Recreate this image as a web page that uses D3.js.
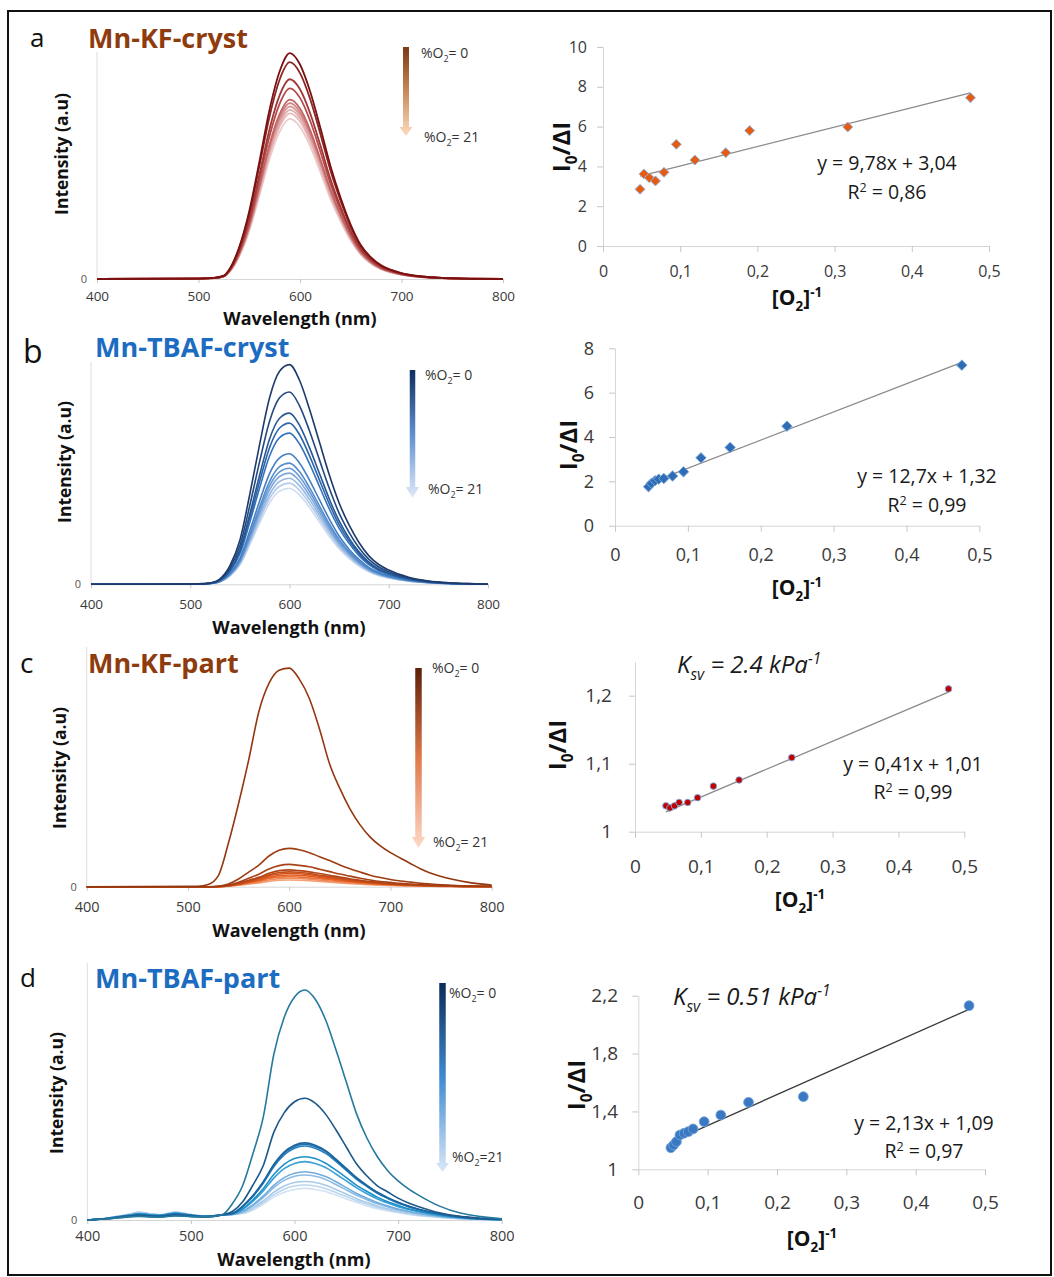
<!DOCTYPE html>
<html>
<head>
<meta charset="utf-8">
<script src="https://cdn.jsdelivr.net/npm/d3@7"></script>
<style>
  body { margin: 0; background: #fff; }
  svg { display: block; font-family: 'Open Sans', 'DejaVu Sans', sans-serif; }
</style>
</head>
<body>
<script>
// ---------- data ----------
const wlTicks = [400, 500, 600, 700, 800];
const invTicks = [0, 0.1, 0.2, 0.3, 0.4, 0.5];

// a : Mn-KF-cryst emission spectra (intensity, axis top = 1)
const wlA = [400, 500, 515, 525, 530, 540, 550, 560, 570, 580, 590, 600, 610, 620, 630, 640, 650, 660, 670, 680, 690, 700, 720, 740, 760, 800];
const specA = [
  [0, 0.002, 0.005, 0.015, 0.04, 0.139, 0.299, 0.517, 0.746, 0.915, 0.995, 0.945, 0.826, 0.667, 0.498, 0.358, 0.239, 0.149, 0.095, 0.06, 0.04, 0.026, 0.011, 0.005, 0.002, 0],
  [0, 0.002, 0.005, 0.014, 0.038, 0.134, 0.287, 0.497, 0.716, 0.879, 0.955, 0.907, 0.793, 0.64, 0.478, 0.344, 0.229, 0.143, 0.091, 0.057, 0.038, 0.025, 0.011, 0.005, 0.002, 0],
  [0, 0.002, 0.004, 0.013, 0.035, 0.123, 0.264, 0.458, 0.66, 0.81, 0.88, 0.836, 0.73, 0.59, 0.44, 0.317, 0.211, 0.132, 0.084, 0.053, 0.035, 0.023, 0.01, 0.004, 0.002, 0],
  [0, 0.002, 0.004, 0.013, 0.034, 0.118, 0.252, 0.437, 0.63, 0.773, 0.84, 0.798, 0.697, 0.563, 0.42, 0.302, 0.202, 0.126, 0.08, 0.05, 0.034, 0.022, 0.009, 0.004, 0.002, 0],
  [0, 0.002, 0.004, 0.012, 0.032, 0.111, 0.237, 0.411, 0.593, 0.727, 0.79, 0.751, 0.656, 0.529, 0.395, 0.284, 0.19, 0.119, 0.075, 0.047, 0.032, 0.021, 0.009, 0.004, 0.002, 0],
  [0, 0.002, 0.004, 0.012, 0.031, 0.109, 0.233, 0.403, 0.581, 0.713, 0.775, 0.736, 0.643, 0.519, 0.388, 0.279, 0.186, 0.116, 0.074, 0.047, 0.031, 0.02, 0.009, 0.004, 0.002, 0],
  [0, 0.002, 0.004, 0.011, 0.03, 0.106, 0.228, 0.395, 0.57, 0.699, 0.76, 0.722, 0.631, 0.509, 0.38, 0.274, 0.182, 0.114, 0.072, 0.046, 0.03, 0.02, 0.008, 0.004, 0.002, 0],
  [0, 0.001, 0.004, 0.011, 0.03, 0.104, 0.224, 0.387, 0.559, 0.685, 0.745, 0.708, 0.618, 0.499, 0.373, 0.268, 0.179, 0.112, 0.071, 0.045, 0.03, 0.019, 0.008, 0.004, 0.001, 0],
  [0, 0.001, 0.004, 0.011, 0.029, 0.102, 0.219, 0.38, 0.548, 0.672, 0.73, 0.694, 0.606, 0.489, 0.365, 0.263, 0.175, 0.11, 0.069, 0.044, 0.029, 0.019, 0.008, 0.004, 0.001, 0],
  [0, 0.001, 0.004, 0.011, 0.028, 0.099, 0.212, 0.367, 0.529, 0.649, 0.705, 0.67, 0.585, 0.472, 0.353, 0.254, 0.169, 0.106, 0.067, 0.042, 0.028, 0.018, 0.008, 0.004, 0.001, 0]
];

// b : Mn-TBAF-cryst
const wlB = [400, 500, 515, 525, 530, 540, 550, 560, 570, 580, 590, 600, 610, 620, 630, 640, 650, 660, 670, 680, 690, 700, 720, 740, 760, 780, 800];
const specB = [
  [0, 0.001, 0.003, 0.012, 0.025, 0.084, 0.198, 0.405, 0.632, 0.84, 0.958, 0.988, 0.919, 0.79, 0.642, 0.494, 0.366, 0.267, 0.188, 0.128, 0.089, 0.064, 0.032, 0.015, 0.007, 0.003, 0],
  [0, 0.001, 0.003, 0.01, 0.022, 0.074, 0.173, 0.355, 0.554, 0.735, 0.839, 0.865, 0.804, 0.692, 0.562, 0.433, 0.32, 0.234, 0.164, 0.112, 0.078, 0.056, 0.028, 0.013, 0.006, 0.003, 0],
  [0, 0.001, 0.002, 0.009, 0.019, 0.065, 0.154, 0.316, 0.493, 0.655, 0.747, 0.77, 0.716, 0.616, 0.501, 0.385, 0.285, 0.208, 0.146, 0.1, 0.069, 0.05, 0.025, 0.012, 0.005, 0.002, 0],
  [0, 0.001, 0.002, 0.009, 0.018, 0.062, 0.145, 0.297, 0.464, 0.616, 0.703, 0.725, 0.674, 0.58, 0.471, 0.363, 0.268, 0.196, 0.138, 0.094, 0.065, 0.047, 0.023, 0.011, 0.005, 0.002, 0],
  [0, 0.001, 0.002, 0.008, 0.017, 0.058, 0.136, 0.279, 0.435, 0.578, 0.66, 0.68, 0.632, 0.544, 0.442, 0.34, 0.252, 0.184, 0.129, 0.088, 0.061, 0.044, 0.022, 0.01, 0.005, 0.002, 0],
  [0, 0.001, 0.002, 0.007, 0.015, 0.05, 0.117, 0.241, 0.376, 0.499, 0.569, 0.587, 0.546, 0.47, 0.382, 0.294, 0.217, 0.158, 0.112, 0.076, 0.053, 0.038, 0.019, 0.009, 0.004, 0.002, 0],
  [0, 0.001, 0.002, 0.007, 0.014, 0.046, 0.109, 0.223, 0.349, 0.463, 0.529, 0.545, 0.507, 0.436, 0.354, 0.273, 0.202, 0.147, 0.104, 0.071, 0.049, 0.035, 0.017, 0.008, 0.004, 0.002, 0],
  [0, 0.001, 0.002, 0.006, 0.012, 0.044, 0.104, 0.214, 0.334, 0.444, 0.506, 0.522, 0.485, 0.418, 0.339, 0.261, 0.193, 0.141, 0.099, 0.068, 0.047, 0.034, 0.017, 0.008, 0.004, 0.002, 0],
  [0, 0.001, 0.002, 0.006, 0.012, 0.043, 0.1, 0.205, 0.32, 0.425, 0.485, 0.5, 0.465, 0.4, 0.325, 0.25, 0.185, 0.135, 0.095, 0.065, 0.045, 0.033, 0.016, 0.008, 0.004, 0.002, 0],
  [0, 0.001, 0.002, 0.006, 0.012, 0.041, 0.095, 0.196, 0.305, 0.405, 0.463, 0.477, 0.444, 0.382, 0.31, 0.239, 0.176, 0.129, 0.091, 0.062, 0.043, 0.031, 0.015, 0.007, 0.003, 0.001, 0],
  [0, 0.001, 0.002, 0.006, 0.012, 0.039, 0.091, 0.187, 0.291, 0.387, 0.441, 0.455, 0.423, 0.364, 0.296, 0.228, 0.168, 0.123, 0.086, 0.059, 0.041, 0.03, 0.015, 0.007, 0.003, 0.001, 0],
  [0, 0.001, 0.002, 0.006, 0.012, 0.037, 0.086, 0.177, 0.276, 0.367, 0.419, 0.432, 0.402, 0.346, 0.281, 0.216, 0.16, 0.117, 0.082, 0.056, 0.039, 0.028, 0.014, 0.006, 0.003, 0.001, 0]
];

// c : Mn-KF-part
const wlC = [400, 510, 520, 530, 540, 550, 560, 570, 580, 590, 600, 610, 620, 630, 640, 650, 660, 670, 680, 690, 700, 710, 720, 730, 740, 760, 780, 800];
const specC = [
  [0, 0.002, 0.009, 0.046, 0.182, 0.347, 0.529, 0.73, 0.848, 0.903, 0.912, 0.866, 0.784, 0.657, 0.511, 0.41, 0.325, 0.258, 0.207, 0.17, 0.142, 0.119, 0.096, 0.074, 0.056, 0.032, 0.016, 0.007],
  [0, 0, 0, 0.002, 0.011, 0.032, 0.061, 0.09, 0.128, 0.152, 0.16, 0.154, 0.142, 0.125, 0.109, 0.091, 0.075, 0.061, 0.048, 0.038, 0.03, 0.024, 0.019, 0.014, 0.011, 0.006, 0.003, 0.002],
  [0, 0, 0, 0.001, 0.007, 0.019, 0.035, 0.052, 0.074, 0.088, 0.093, 0.089, 0.083, 0.073, 0.063, 0.053, 0.044, 0.035, 0.028, 0.022, 0.018, 0.014, 0.011, 0.008, 0.007, 0.004, 0.002, 0.001],
  [0, 0, 0, 0.001, 0.005, 0.014, 0.027, 0.039, 0.056, 0.067, 0.07, 0.067, 0.062, 0.055, 0.048, 0.04, 0.033, 0.027, 0.021, 0.017, 0.013, 0.011, 0.008, 0.006, 0.005, 0.003, 0.001, 0.001],
  [0, 0, 0, 0.001, 0.004, 0.012, 0.024, 0.035, 0.05, 0.059, 0.062, 0.06, 0.055, 0.048, 0.042, 0.035, 0.029, 0.024, 0.019, 0.015, 0.012, 0.009, 0.007, 0.006, 0.004, 0.002, 0.001, 0.001],
  [0, 0, 0, 0.001, 0.004, 0.011, 0.021, 0.031, 0.045, 0.053, 0.056, 0.054, 0.05, 0.044, 0.038, 0.032, 0.026, 0.021, 0.017, 0.013, 0.011, 0.008, 0.007, 0.005, 0.004, 0.002, 0.001, 0.001],
  [0, 0, 0, 0, 0.003, 0.01, 0.019, 0.027, 0.039, 0.047, 0.049, 0.047, 0.044, 0.038, 0.033, 0.028, 0.023, 0.019, 0.015, 0.012, 0.009, 0.007, 0.006, 0.004, 0.003, 0.002, 0.001, 0],
  [0, 0, 0, 0, 0.003, 0.008, 0.016, 0.024, 0.034, 0.04, 0.042, 0.04, 0.037, 0.033, 0.029, 0.024, 0.02, 0.016, 0.013, 0.01, 0.008, 0.006, 0.005, 0.004, 0.003, 0.002, 0.001, 0],
  [0, 0, 0, 0, 0.002, 0.007, 0.013, 0.02, 0.028, 0.033, 0.035, 0.034, 0.031, 0.027, 0.024, 0.02, 0.016, 0.013, 0.011, 0.008, 0.007, 0.005, 0.004, 0.003, 0.002, 0.001, 0.001, 0],
  [0, 0, 0, 0, 0.002, 0.006, 0.011, 0.016, 0.022, 0.027, 0.028, 0.027, 0.025, 0.022, 0.019, 0.016, 0.013, 0.011, 0.008, 0.007, 0.005, 0.004, 0.003, 0.003, 0.002, 0.001, 0, 0]
];

// d : Mn-TBAF-part
const wlD = [400, 420, 440, 450, 460, 470, 485, 500, 515, 530, 540, 550, 560, 570, 580, 590, 600, 610, 620, 630, 640, 650, 660, 670, 680, 690, 700, 710, 720, 740, 760, 780, 800];
const specD = [
  [0, 0.005, 0.012, 0.014, 0.012, 0.011, 0.016, 0.013, 0.012, 0.02, 0.063, 0.134, 0.26, 0.403, 0.644, 0.788, 0.868, 0.895, 0.859, 0.779, 0.662, 0.537, 0.412, 0.318, 0.246, 0.192, 0.152, 0.121, 0.096, 0.054, 0.027, 0.013, 0.005],
  [0, 0.005, 0.013, 0.016, 0.014, 0.012, 0.018, 0.014, 0.012, 0.02, 0.033, 0.071, 0.137, 0.213, 0.341, 0.417, 0.46, 0.474, 0.455, 0.412, 0.351, 0.284, 0.218, 0.171, 0.133, 0.109, 0.085, 0.066, 0.052, 0.028, 0.014, 0.007, 0.003],
  [0, 0.006, 0.016, 0.02, 0.017, 0.015, 0.022, 0.017, 0.013, 0.02, 0.026, 0.054, 0.096, 0.15, 0.216, 0.264, 0.291, 0.3, 0.291, 0.27, 0.237, 0.201, 0.165, 0.135, 0.108, 0.087, 0.069, 0.054, 0.042, 0.024, 0.012, 0.005, 0.002],
  [0, 0.006, 0.016, 0.02, 0.017, 0.015, 0.022, 0.017, 0.013, 0.02, 0.025, 0.053, 0.094, 0.148, 0.212, 0.26, 0.286, 0.295, 0.286, 0.266, 0.233, 0.198, 0.162, 0.133, 0.106, 0.086, 0.068, 0.053, 0.041, 0.024, 0.012, 0.005, 0.002],
  [0, 0.006, 0.016, 0.02, 0.017, 0.015, 0.022, 0.017, 0.013, 0.02, 0.025, 0.052, 0.092, 0.144, 0.207, 0.253, 0.279, 0.288, 0.279, 0.259, 0.228, 0.193, 0.158, 0.13, 0.104, 0.084, 0.066, 0.052, 0.04, 0.023, 0.012, 0.005, 0.002],
  [0, 0.007, 0.018, 0.024, 0.02, 0.018, 0.026, 0.019, 0.014, 0.02, 0.024, 0.044, 0.079, 0.123, 0.177, 0.216, 0.239, 0.246, 0.239, 0.221, 0.194, 0.165, 0.135, 0.111, 0.089, 0.071, 0.057, 0.044, 0.034, 0.02, 0.01, 0.004, 0.002],
  [0, 0.007, 0.018, 0.024, 0.02, 0.018, 0.026, 0.019, 0.014, 0.02, 0.023, 0.041, 0.073, 0.114, 0.163, 0.2, 0.22, 0.227, 0.22, 0.204, 0.179, 0.152, 0.125, 0.102, 0.082, 0.066, 0.052, 0.041, 0.032, 0.018, 0.009, 0.004, 0.002],
  [0, 0.007, 0.018, 0.024, 0.02, 0.018, 0.026, 0.019, 0.014, 0.02, 0.022, 0.034, 0.06, 0.094, 0.135, 0.165, 0.182, 0.188, 0.182, 0.169, 0.149, 0.126, 0.103, 0.085, 0.068, 0.055, 0.043, 0.034, 0.026, 0.015, 0.008, 0.003, 0.002],
  [0, 0.007, 0.018, 0.024, 0.02, 0.018, 0.026, 0.019, 0.014, 0.02, 0.022, 0.032, 0.056, 0.088, 0.126, 0.154, 0.17, 0.175, 0.17, 0.158, 0.138, 0.117, 0.096, 0.079, 0.063, 0.051, 0.04, 0.032, 0.025, 0.014, 0.007, 0.003, 0.001],
  [0, 0.008, 0.022, 0.03, 0.024, 0.02, 0.03, 0.021, 0.015, 0.02, 0.022, 0.028, 0.048, 0.075, 0.108, 0.132, 0.146, 0.15, 0.146, 0.135, 0.119, 0.101, 0.083, 0.068, 0.054, 0.044, 0.035, 0.027, 0.021, 0.012, 0.006, 0.003, 0.001],
  [0, 0.008, 0.022, 0.03, 0.024, 0.02, 0.03, 0.021, 0.015, 0.02, 0.022, 0.026, 0.044, 0.068, 0.098, 0.12, 0.132, 0.136, 0.132, 0.122, 0.107, 0.091, 0.075, 0.061, 0.049, 0.039, 0.031, 0.024, 0.019, 0.011, 0.005, 0.002, 0.001],
  [0, 0.008, 0.022, 0.03, 0.024, 0.02, 0.03, 0.021, 0.015, 0.02, 0.022, 0.025, 0.039, 0.062, 0.089, 0.108, 0.119, 0.123, 0.119, 0.111, 0.097, 0.082, 0.068, 0.055, 0.044, 0.036, 0.028, 0.022, 0.017, 0.01, 0.005, 0.002, 0.001]
];

// Stern-Volmer plots: [O2]^-1 vs I0/dI
const invA = [0.048, 0.053, 0.060, 0.068, 0.079, 0.095, 0.119, 0.159, 0.190, 0.317, 0.476];
const ratioA = [2.85, 3.62, 3.43, 3.27, 3.70, 5.11, 4.32, 4.69, 5.80, 5.98, 7.45];
const fitA = [9.78, 3.04], r2A = 0.86;

const invB = [0.046, 0.050, 0.055, 0.060, 0.067, 0.079, 0.094, 0.118, 0.158, 0.236, 0.476];
const ratioB = [1.76, 1.91, 2.03, 2.10, 2.13, 2.24, 2.43, 3.06, 3.53, 4.49, 7.24];
const fitB = [12.7, 1.32], r2B = 0.99;

const invC = [0.047, 0.053, 0.060, 0.067, 0.080, 0.095, 0.119, 0.158, 0.238, 0.476];
const ratioC = [1.038, 1.035, 1.038, 1.043, 1.043, 1.050, 1.067, 1.076, 1.109, 1.210];
const fitC = [0.41, 1.01], r2C = 0.99, ksvC = "2.4";

const invD = [0.047, 0.051, 0.055, 0.060, 0.066, 0.072, 0.079, 0.095, 0.119, 0.159, 0.238, 0.477];
const ratioD = [1.149, 1.168, 1.191, 1.237, 1.249, 1.26, 1.279, 1.329, 1.375, 1.463, 1.502, 2.131];
const fitD = [2.13, 1.09], r2D = 0.97, ksvD = "0.51";

// ---------- drawing ----------
const svg = d3.select("body").append("svg").attr("width", 1054).attr("height", 1277);
const defs = svg.append("defs");

svg.append("rect")
  .attr("x", 8).attr("y", 11).attr("width", 1043).attr("height", 1264)
  .attr("fill", "none").attr("stroke", "#111").attr("stroke-width", 2);

const comma = d => String(d).replace(".", ",");

// text with sub / superscript parts
function rich(text, parts, fs) {
  let shift = 0;
  parts.forEach(([t, k]) => {
    const ts = text.append("tspan").text(t);
    const target = k === "sub" ? fs * 0.3 : k === "sup" ? -fs * 0.38 : 0;
    if (k) ts.attr("font-size", fs * 0.64);
    if (target !== shift) { ts.attr("dy", target - shift); shift = target; }
  });
  return text;
}

function styleAxis(ax, fs) {
  ax.attr("font-family", null).attr("font-size", null);
  ax.select(".domain").attr("stroke", "#d6d6d6");
  ax.selectAll(".tick line").attr("stroke", "#c6c6c6");
  ax.selectAll(".tick text").attr("font-size", fs).attr("fill", "#3a3a3a");
}

function drawSpectrum(p) {
  const x = d3.scaleLinear().domain([400, 800]).range([p.left, p.right]);
  const y = d3.scaleLinear().domain([0, 1]).range([p.base, p.top]);
  const g = svg.append("g");

  g.append("line").attr("x1", p.left).attr("x2", p.left).attr("y1", p.top).attr("y2", p.base)
    .attr("stroke", "#dedede");
  const xa = g.append("g").attr("transform", `translate(0,${p.base})`)
    .call(d3.axisBottom(x).tickValues(wlTicks).tickSize(4).tickSizeOuter(0));
  styleAxis(xa, p.tickFs);
  xa.selectAll(".tick text").attr("y", p.tickY - p.base).attr("dy", null);
  g.append("text").attr("x", p.left - 10).attr("y", p.base + 4).attr("text-anchor", "end")
    .attr("font-size", 11).attr("fill", "#555").text("0");

  const line = d3.line().x((d, i) => x(p.wl[i])).y(d => y(d)).curve(d3.curveMonotoneX);
  const ramp = d3.piecewise(d3.interpolateRgb, p.ramp);
  const n = p.curves.length;
  g.append("g").selectAll("path")
    .data(p.curves.map((c, i) => ({ c, i })).reverse())
    .join("path")
    .attr("d", d => line(d.c))
    .attr("fill", "none")
    .attr("stroke", d => p.colors ? p.colors[d.i] : ramp(d.i / (n - 1)))
    .attr("stroke-width", p.sw)
    .attr("stroke-linejoin", "round");

  g.append("text").attr("x", p.xLabel[0]).attr("y", p.xLabel[1]).attr("text-anchor", "middle")
    .attr("font-size", 18).attr("font-weight", 700).attr("fill", "#111").text("Wavelength (nm)");
  g.append("text").attr("transform", `translate(${p.yLabel[0]},${p.yLabel[1]}) rotate(-90)`)
    .attr("text-anchor", "middle").attr("font-size", 17.5).attr("font-weight", 700).attr("fill", "#111")
    .text("Intensity (a.u)");

  g.append("text").attr("x", p.letter[0]).attr("y", p.letter[1]).attr("font-size", p.letterFs)
    .attr("fill", "#111").text(p.letterText);
  g.append("text").attr("x", p.title[0]).attr("y", p.title[1]).attr("font-size", 27)
    .attr("font-weight", 700).attr("fill", p.titleColor).text(p.titleText);

  // gradient arrow legend
  const L = p.legend;
  const grad = defs.append("linearGradient").attr("id", "g" + p.letterText)
    .attr("x1", 0).attr("x2", 0).attr("y1", 0).attr("y2", 1);
  L.stops.forEach((c, i, a) => grad.append("stop").attr("offset", i / (a.length - 1)).attr("stop-color", c));
  const hw = L.w / 2;
  g.append("path")
    .attr("d", `M${L.x - hw},${L.top}H${L.x + hw}V${L.head}H${L.x + 6.5}L${L.x},${L.bottom}L${L.x - 6.5},${L.head}H${L.x - hw}Z`)
    .attr("fill", `url(#g${p.letterText})`);
  L.labels.forEach(([lx, ly, v]) => {
    rich(g.append("text").attr("x", lx).attr("y", ly).attr("font-size", 14).attr("fill", "#333"),
      [["%O", null], ["2", "sub"], [v, null]], 14);
  });
}

function drawScatter(p) {
  const x = d3.scaleLinear().domain([0, 0.5]).range([p.left, p.right]);
  const y = d3.scaleLinear().domain(p.yDom).range([p.base, p.top]);
  const g = svg.append("g");

  const xa = g.append("g").attr("transform", `translate(0,${p.base})`)
    .call(d3.axisBottom(x).tickValues(invTicks).tickSize(6).tickSizeOuter(0).tickFormat(comma));
  styleAxis(xa, p.tickFs);
  xa.selectAll(".tick text").attr("y", p.xTickY - p.base).attr("dy", null);
  const ya = g.append("g").attr("transform", `translate(${p.left},0)`)
    .call(d3.axisLeft(y).tickValues(p.yTicks).tickSize(6).tickSizeOuter(0).tickFormat(comma));
  styleAxis(ya, p.tickFs);
  ya.selectAll(".tick text").attr("x", p.yTickX - p.left);

  const ext = d3.extent(p.xs);
  g.append("line")
    .attr("x1", x(ext[0])).attr("y1", y(p.fit[0] * ext[0] + p.fit[1]))
    .attr("x2", x(ext[1])).attr("y2", y(p.fit[0] * ext[1] + p.fit[1]))
    .attr("stroke", p.lineColor).attr("stroke-width", 1.3);

  g.append("g").selectAll("path").data(p.xs.map((v, i) => [v, p.ys[i]])).join("path")
    .attr("transform", d => `translate(${x(d[0])},${y(d[1])})` + (p.marker === "diamond" ? " rotate(45)" : ""))
    .attr("d", d3.symbol().type(p.marker === "diamond" ? d3.symbolSquare : d3.symbolCircle).size(p.size))
    .attr("fill", p.fill).attr("stroke", p.stroke).attr("stroke-width", 0.9);

  g.append("text").attr("x", p.eq[0]).attr("y", p.eq[1]).attr("text-anchor", "middle")
    .attr("font-size", 19.5).attr("fill", "#1a1a1a")
    .text(`y = ${comma(p.fit[0])}x + ${comma(p.fit[1])}`);
  rich(g.append("text").attr("x", p.eq[0]).attr("y", p.eq[2]).attr("text-anchor", "middle")
    .attr("font-size", 19.5).attr("fill", "#1a1a1a"),
    [["R", null], ["2", "sup"], [` = ${comma(p.r2)}`, null]], 19.5);

  if (p.ksv) {
    rich(g.append("text").attr("x", p.ksvPos[0]).attr("y", p.ksvPos[1]).attr("font-size", 24)
      .attr("font-style", "italic").attr("fill", "#1a1a1a"),
      [["K", null], ["sv", "sub"], [` = ${p.ksv} kPa`, null], ["-1", "sup"]], 24);
  }

  rich(g.append("text").attr("x", p.xLabel[0]).attr("y", p.xLabel[1]).attr("text-anchor", "middle")
    .attr("font-size", 21).attr("font-weight", 700).attr("fill", "#111"),
    [["[O", null], ["2", "sub"], ["]", null], ["-1", "sup"]], 21);
  rich(g.append("text").attr("transform", `translate(${p.yLabel[0]},${p.yLabel[1]}) rotate(-90)`)
    .attr("text-anchor", "middle").attr("font-size", 24).attr("font-weight", 700).attr("fill", "#111"),
    [["I", null], ["0", "sub"], ["/ΔI", null]], 24);
}

// ---------- panels ----------
const brown = "#8e3c0e", blue = "#1c6cc1";

drawSpectrum({
  wl: wlA, curves: specA, left: 97, right: 503, base: 279, top: 52, tickY: 301, tickFs: 13.5,
  ramp: ["#7a1010", "#b54a4a", "#dc9c9c", "#edcaca"], sw: 1.8,
  xLabel: [300, 325], yLabel: [68, 154], letter: [30, 47], letterFs: 26, letterText: "a",
  title: [88, 48], titleText: "Mn-KF-cryst", titleColor: brown,
  legend: { x: 406, w: 6, top: 47, head: 127, bottom: 136, stops: ["#7a3a12", "#c98a5a", "#fddcbf"],
    labels: [[421, 58, "= 0"], [424, 142, "= 21"]] }
});
drawSpectrum({
  wl: wlB, curves: specB, left: 91, right: 488, base: 584.3, top: 362, tickY: 609, tickFs: 13.5,
  ramp: ["#1d3a6b", "#2f6fb8", "#6b9cd6", "#cddcf1"], sw: 1.6,
  xLabel: [289, 634], yLabel: [71, 462], letter: [23, 363], letterFs: 32, letterText: "b",
  title: [95, 357], titleText: "Mn-TBAF-cryst", titleColor: blue,
  legend: { x: 412.5, w: 5.5, top: 370, head: 487, bottom: 498, stops: ["#0f2d5e", "#5f8fd0", "#e1eaf8"],
    labels: [[425, 380, "= 0"], [428, 494, "= 21"]] }
});
drawSpectrum({
  wl: wlC, curves: specC, left: 86.7, right: 491.7, base: 886.7, top: 647, tickY: 912, tickFs: 14.5,
  ramp: ["#94370f", "#b24618", "#e55a1c", "#f4a277"], sw: 1.6,
  xLabel: [289, 937], yLabel: [66, 768], letter: [20, 673], letterFs: 28, letterText: "c",
  title: [88, 673], titleText: "Mn-KF-part", titleColor: brown,
  legend: { x: 418.5, w: 6.5, top: 668, head: 837, bottom: 848, stops: ["#5c1f07", "#e0794a", "#fcd9c8"],
    labels: [[432, 673, "= 0"], [433, 847, "= 21"]] }
});
drawSpectrum({
  wl: wlD, curves: specD, left: 87.3, right: 501.7, base: 1220, top: 963, tickY: 1241, tickFs: 14.5,
  colors: ["#25799f", "#1c5889", "#1e66a0", "#1f6fac", "#2580bd", "#1d8fc8", "#3aa0d6", "#72acdc", "#8dbbe4", "#a7cbea", "#bcd6ef", "#d2e3f4"],
  ramp: ["#000", "#fff"], sw: 1.6,
  xLabel: [294, 1266], yLabel: [63, 1093], letter: [20, 987], letterFs: 26, letterText: "d",
  title: [95, 988], titleText: "Mn-TBAF-part", titleColor: blue,
  legend: { x: 442.5, w: 6.5, top: 983, head: 1163, bottom: 1172, stops: ["#0b2c58", "#3f8ad2", "#d9e8f7"],
    labels: [[449, 998, "= 0"], [452, 1162, "=21"]] }
});

drawScatter({
  xs: invA, ys: ratioA, fit: fitA, r2: r2A,
  left: 603, right: 989, base: 246, top: 47, yDom: [0, 10], yTicks: [0, 2, 4, 6, 8, 10],
  tickFs: 16, xTickY: 277, yTickX: 587, xLabel: [797, 305], yLabel: [570, 147],
  eq: [887, 170, 199], marker: "diamond", size: 50, fill: "#e65a12", stroke: "#8fbbe6", lineColor: "#8a8a8a"
});
drawScatter({
  xs: invB, ys: ratioB, fit: fitB, r2: r2B,
  left: 615, right: 979.3, base: 525.7, top: 348.3, yDom: [0, 8], yTicks: [0, 2, 4, 6, 8],
  tickFs: 18, xTickY: 561, yTickX: 594, xLabel: [797, 595], yLabel: [577, 445],
  eq: [927, 483, 512], marker: "diamond", size: 55, fill: "#2e6db6", stroke: "#7eaadb", lineColor: "#8a8a8a"
});
drawScatter({
  xs: invC, ys: ratioC, fit: fitC, r2: r2C, ksv: ksvC, ksvPos: [677, 673],
  left: 635, right: 964.3, base: 831.7, top: 661.7, yDom: [1, 1.25], yTicks: [1, 1.1, 1.2],
  tickFs: 19, xTickY: 873, yTickX: 612, xLabel: [800, 907], yLabel: [566, 745],
  eq: [913, 771, 799], marker: "circle", size: 34, fill: "#c00000", stroke: "#7aaee0", lineColor: "#8a8a8a"
});
drawScatter({
  xs: invD, ys: ratioD, fit: fitD, r2: r2D, ksv: ksvD, ksvPos: [673, 1005],
  left: 638.3, right: 985, base: 1169.3, top: 995.7, yDom: [1, 2.2], yTicks: [1, 1.4, 1.8, 2.2],
  tickFs: 19, xTickY: 1209, yTickX: 618, xLabel: [812, 1246], yLabel: [585, 1085],
  eq: [924, 1130, 1158], marker: "circle", size: 75, fill: "#3b78c2", stroke: "#6fa3da", lineColor: "#3c3c3c"
});
</script>
</body>
</html>
